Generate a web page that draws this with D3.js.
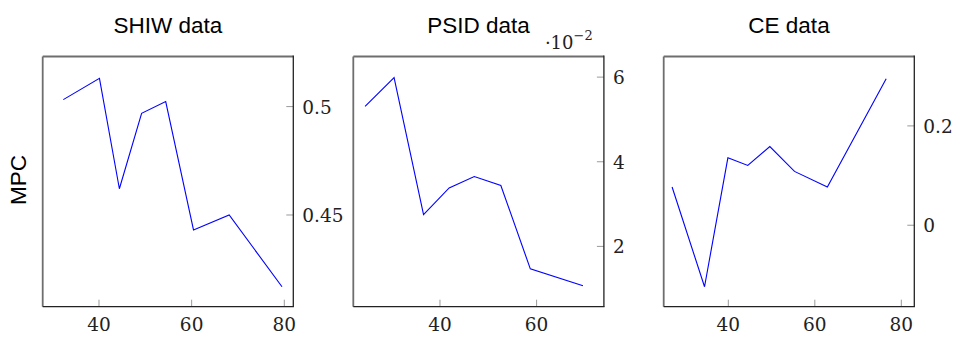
<!DOCTYPE html>
<html>
<head>
<meta charset="utf-8">
<script src="https://cdn.jsdelivr.net/npm/d3@7"></script>
<style>
  html, body { margin: 0; padding: 0; background: #fff; }
  svg { display: block; }
</style>
</head>
<body>
<svg id="chart" width="957" height="338"></svg>
<script>
// Panel titles
const titles = ["SHIW data", "PSID data", "CE data"];

// SHIW: age vs MPC
const shiwAge = [32.3, 40.1, 44.4, 49.2, 54.4, 60.4, 68.1, 79.5];
const shiwMpc = [0.5032, 0.5130, 0.4621, 0.4969, 0.5023, 0.4431, 0.4500, 0.4169];

// PSID: age vs MPC
const psidAge = [24.5, 30.5, 36.6, 41.9, 47.1, 52.6, 58.7, 69.6];
const psidMpc = [0.0531, 0.0599, 0.0275, 0.0338, 0.0365, 0.0344, 0.0147, 0.0107];

// CE: age vs MPC
const ceAge = [27.0, 34.5, 39.9, 44.5, 49.6, 55.3, 62.9, 76.5];
const ceMpc = [0.0769, -0.1238, 0.1358, 0.1204, 0.1585, 0.1084, 0.0769, 0.2950];

// Tick values
const xTicks = [[40, 60, 80], [40, 60], [40, 60, 80]];
const yTicks = [[0.45, 0.5], [0.02, 0.04, 0.06], [0, 0.2]];
const yTickText = [["0.45", "0.5"], ["2", "4", "6"], ["0", "0.2"]];

const sansFont = "'Liberation Sans', Arial, sans-serif";
const serifFont = "'DejaVu Serif', serif";

const panels = [
  { x: shiwAge, y: shiwMpc, left: 42.7, xDom: [27.85, 81.94], yDom: [0.4077, 0.5231] },
  { x: psidAge, y: psidMpc, left: 353.3, xDom: [22.06, 73.93], yDom: [0.00575, 0.06487] },
  { x: ceAge, y: ceMpc, left: 663.7, xDom: [25.06, 83.0], yDom: [-0.164, 0.3397] }
];

const svg = d3.select("#chart");
const boxTop = 56.5, boxBottom = 306.7, boxWidth = 250.6;
const tickLen = 7;

panels.forEach((p, i) => {
  const g = svg.append("g").attr("transform", `translate(${p.left},0)`);
  const x = d3.scaleLinear().domain(p.xDom).range([0, boxWidth]);
  const y = d3.scaleLinear().domain(p.yDom).range([boxBottom, boxTop]);

  // ticks (drawn inside the box)
  g.selectAll(".xt").data(xTicks[i]).join("line")
    .attr("x1", d => x(d)).attr("x2", d => x(d))
    .attr("y1", boxBottom).attr("y2", boxBottom - tickLen)
    .attr("stroke", "#9a9a9a").attr("stroke-width", 1);
  g.selectAll(".yt").data(yTicks[i]).join("line")
    .attr("x1", boxWidth).attr("x2", boxWidth - tickLen)
    .attr("y1", d => y(d)).attr("y2", d => y(d))
    .attr("stroke", "#9a9a9a").attr("stroke-width", 1);

  // x tick labels
  g.selectAll(".xl").data(xTicks[i]).join("text")
    .attr("font-family", serifFont)
    .attr("fill", "#222")
    .attr("x", d => x(d)).attr("y", boxBottom + 24.5)
    .attr("text-anchor", "middle")
    .attr("font-size", 18.5)
    .text(d => d);

  // y tick labels on the right
  g.selectAll(".yl").data(yTicks[i]).join("text")
    .attr("font-family", serifFont)
    .attr("fill", "#222")
    .attr("x", boxWidth + 9).attr("y", d => y(d) + 7)
    .attr("font-size", 18.5)
    .text((d, j) => yTickText[i][j]);

  // data line
  const pts = p.x.map((v, k) => [v, p.y[k]]);
  g.append("path")
    .datum(pts)
    .attr("fill", "none")
    .attr("stroke", "#0000ff")
    .attr("stroke-width", 1.1)
    .attr("d", d3.line().x(d => x(d[0])).y(d => y(d[1])));

  // frame: top/left lighter, bottom/right axis lines darker
  g.append("line").attr("x1", 0).attr("x2", boxWidth).attr("y1", boxTop).attr("y2", boxTop)
    .attr("stroke", "#6e6e6e").attr("stroke-width", 1.8);
  g.append("line").attr("x1", 0).attr("x2", 0).attr("y1", boxTop).attr("y2", boxBottom)
    .attr("stroke", "#6e6e6e").attr("stroke-width", 1.8);
  g.append("line").attr("x1", 0).attr("x2", boxWidth + 0.6).attr("y1", boxBottom).attr("y2", boxBottom)
    .attr("stroke", "#222").attr("stroke-width", 1.3);
  g.append("line").attr("x1", boxWidth).attr("x2", boxWidth).attr("y1", boxTop - 0.9).attr("y2", boxBottom)
    .attr("stroke", "#222").attr("stroke-width", 1.3);

  // title
  g.append("text")
    .attr("font-family", sansFont)
    .attr("x", boxWidth / 2).attr("y", 33.3)
    .attr("text-anchor", "middle")
    .attr("font-size", 22.5)
    .text(titles[i]);

  // scale multiplier for the PSID axis
  if (i === 1) {
    const t = g.append("text")
      .attr("font-family", serifFont)
      .attr("fill", "#222")
      .attr("x", boxWidth - 59).attr("y", 48.6)
      .attr("font-size", 18);
    t.append("tspan").text("\u00B710");
    t.append("tspan").attr("dy", -8.5).attr("font-size", 13).text("\u22122");
  }
});

// shared y label
svg.append("text")
  .attr("font-family", sansFont)
  .attr("transform", "translate(25.5,180) rotate(-90)")
  .attr("text-anchor", "middle")
  .attr("font-size", 22.5)
  .text("MPC");
</script>
</body>
</html>
